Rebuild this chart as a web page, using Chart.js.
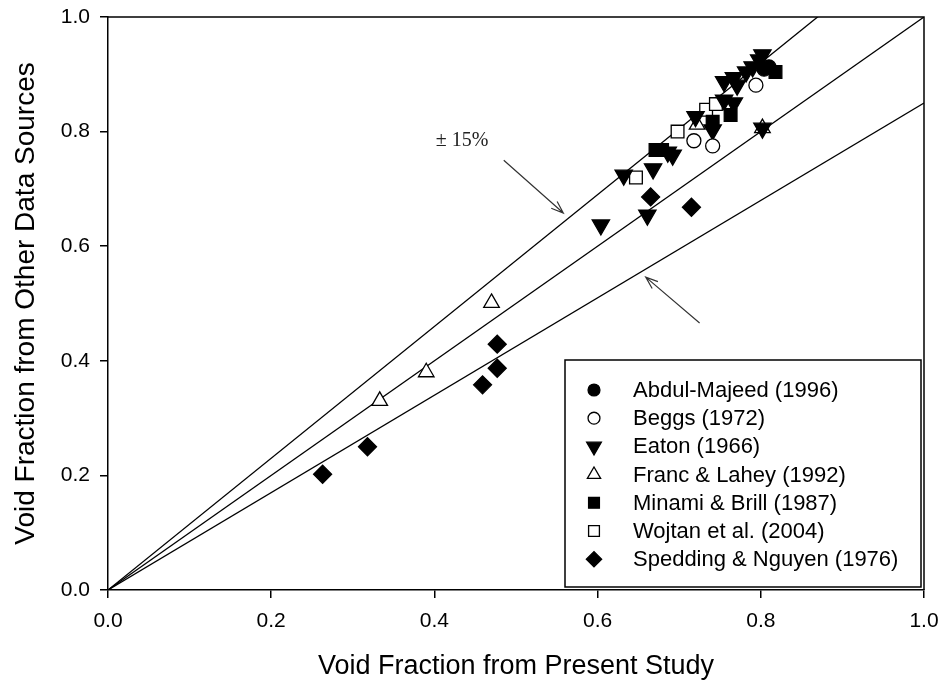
<!DOCTYPE html>
<html>
<head>
<meta charset="utf-8">
<script src="https://cdn.jsdelivr.net/npm/chart.js@4/dist/chart.umd.min.js"></script>
<style>
  html, body { margin: 0; padding: 0; background: #fff; }
</style>
</head>
<body>
<canvas id="voidChart" width="943" height="686"></canvas>
<script>
// データ
var abdulX = [0.804, 0.810];
var abdulY = [0.909, 0.913];
var beggsX = [0.718, 0.741, 0.794];
var beggsY = [0.784, 0.775, 0.881];
var eatonX = [0.604, 0.661, 0.632, 0.668, 0.686, 0.692, 0.720, 0.741, 0.755, 0.767, 0.755, 0.767, 0.771, 0.782, 0.790, 0.798, 0.802, 0.802];
var eatonY = [0.637, 0.654, 0.724, 0.735, 0.764, 0.759, 0.826, 0.803, 0.855, 0.850, 0.887, 0.894, 0.881, 0.904, 0.913, 0.925, 0.934, 0.806];
var francX = [0.333, 0.390, 0.470, 0.722, 0.802];
var francY = [0.330, 0.380, 0.501, 0.812, 0.806];
var minamiX = [0.671, 0.679, 0.741, 0.763, 0.818];
var minamiY = [0.768, 0.768, 0.817, 0.829, 0.904];
var wojtanX = [0.647, 0.698, 0.733, 0.745];
var wojtanY = [0.720, 0.800, 0.838, 0.848];
var speddingX = [0.263, 0.318, 0.459, 0.477, 0.477, 0.665, 0.715];
var speddingY = [0.202, 0.250, 0.358, 0.387, 0.429, 0.686, 0.668];

// 基準線 y = k x
var lineRatios = [1.0, 1.15, 0.85];
var tickValues = [0.0, 0.2, 0.4, 0.6, 0.8, 1.0];

var FONT = "'Liberation Sans', Arial, sans-serif";

var pts = function (xs, ys) {
    return xs.map(function (x, i) { return { x: x, y: ys[i] }; });
};

var series = [
    { label: 'Abdul-Majeed (1996)', x: abdulX, y: abdulY, style: 'circle', r: 7, rot: 0, fill: '#000' },
    { label: 'Beggs (1972)', x: beggsX, y: beggsY, style: 'circle', r: 7, rot: 0, fill: '#fff' },
    { label: 'Eaton (1966)', x: eatonX, y: eatonY, style: 'triangle', r: 10, rot: 180, fill: '#000' },
    { label: 'Franc & Lahey (1992)', x: francX, y: francY, style: 'triangle', r: 9, rot: 0, fill: '#fff' },
    { label: 'Minami & Brill (1987)', x: minamiX, y: minamiY, style: 'rect', r: 9, rot: 0, fill: '#000' },
    { label: 'Wojtan et al. (2004)', x: wojtanX, y: wojtanY, style: 'rect', r: 9, rot: 0, fill: '#fff' },
    { label: 'Spedding & Nguyen (1976)', x: speddingX, y: speddingY, style: 'rectRot', r: 9, rot: 0, fill: '#000' }
];

var datasets = series.map(function (s) {
    return {
        label: s.label,
        data: pts(s.x, s.y),
        pointStyle: s.style,
        pointRadius: s.r,
        pointRotation: s.rot,
        pointBackgroundColor: s.fill,
        pointBorderColor: '#000',
        pointBorderWidth: 1.3,
        showLine: false
    };
});

lineRatios.forEach(function (k) {
    datasets.push({
        label: 'ratio ' + k,
        data: [{ x: 0, y: 0 }, { x: 1, y: k }],
        showLine: true,
        borderColor: '#000',
        borderWidth: 1.3,
        pointRadius: 0,
        order: 10
    });
});

// 枠線（上・右）
var framePlugin = {
    id: 'frame',
    afterDraw: function (chart) {
        var a = chart.chartArea, ctx = chart.ctx;
        ctx.save();
        ctx.strokeStyle = '#000';
        ctx.lineWidth = 1.5;
        ctx.beginPath();
        ctx.moveTo(a.left, a.top);
        ctx.lineTo(a.right, a.top);
        ctx.lineTo(a.right, a.bottom);
        ctx.stroke();
        ctx.restore();
    }
};

// ±15% の注記と矢印
var arrow = function (ctx, x1, y1, x2, y2) {
    var ang = Math.atan2(y2 - y1, x2 - x1), h = 13, w = 0.35;
    ctx.beginPath();
    ctx.moveTo(x1, y1);
    ctx.lineTo(x2, y2);
    ctx.moveTo(x2 - h * Math.cos(ang - w), y2 - h * Math.sin(ang - w));
    ctx.lineTo(x2, y2);
    ctx.lineTo(x2 - h * Math.cos(ang + w), y2 - h * Math.sin(ang + w));
    ctx.stroke();
};
var notePlugin = {
    id: 'note',
    afterDatasetsDraw: function (chart) {
        var xs = chart.scales.x, ys = chart.scales.y, ctx = chart.ctx;
        ctx.save();
        ctx.strokeStyle = '#333';
        ctx.lineWidth = 1.2;
        arrow(ctx, xs.getPixelForValue(0.485), ys.getPixelForValue(0.750), xs.getPixelForValue(0.558), ys.getPixelForValue(0.658));
        arrow(ctx, xs.getPixelForValue(0.725), ys.getPixelForValue(0.466), xs.getPixelForValue(0.659), ys.getPixelForValue(0.546));
        ctx.fillStyle = '#222';
        ctx.font = "20px 'Liberation Serif', 'Times New Roman', serif";
        ctx.textAlign = 'center';
        ctx.textBaseline = 'middle';
        ctx.fillText('\u00b1 15%', xs.getPixelForValue(0.434), ys.getPixelForValue(0.784));
        ctx.restore();
    }
};

// 凡例（プロット内の箱）
var legendPlugin = {
    id: 'boxLegend',
    afterDraw: function (chart) {
        var ctx = chart.ctx, a = chart.chartArea;
        var bx = 565, by = 360, bw = a.right - 3 - bx, bh = 227;
        ctx.save();
        ctx.fillStyle = '#fff';
        ctx.fillRect(bx, by, bw, bh);
        ctx.strokeStyle = '#000';
        ctx.lineWidth = 1.5;
        ctx.strokeRect(bx, by, bw, bh);
        ctx.font = '22px ' + FONT;
        ctx.textBaseline = 'middle';
        ctx.textAlign = 'left';
        series.forEach(function (s, i) {
            var y = 390 + i * 28.2;
            ctx.fillStyle = s.fill;
            ctx.strokeStyle = '#000';
            ctx.lineWidth = 1.3;
            Chart.helpers.drawPoint(ctx, {
                pointStyle: s.style,
                radius: s.r * 0.85,
                rotation: s.rot,
                borderWidth: 1.3
            }, 594, y);
            ctx.fillStyle = '#000';
            ctx.fillText(s.label, 633, y + 1);
        });
        ctx.restore();
    }
};

var axisCommon = function (title, isY) {
    return {
        type: 'linear',
        min: 0,
        max: 1,
        afterBuildTicks: function (scale) {
            scale.ticks = tickValues.map(function (v) { return { value: v }; });
        },
        ticks: {
            color: '#000',
            font: { family: FONT, size: 21 },
            padding: isY ? 10 : 11,
            callback: function (v) { return Number(v).toFixed(1); }
        },
        grid: {
            drawOnChartArea: false,
            drawTicks: true,
            tickLength: 8,
            color: '#000',
            lineWidth: 1.5
        },
        border: { display: true, color: '#000', width: 1.5 },
        title: {
            display: true,
            text: title,
            color: '#000',
            font: { family: FONT, size: isY ? 28 : 27 },
            padding: isY ? { top: 9, bottom: 0 } : { top: 0, bottom: 3 }
        },
        afterFit: function (scale) {
            // 軸の幅・高さを固定し、端ラベルのはみ出し分の余白を消す
            if (isY) {
                scale.width = 108;
                scale.paddingTop = 0;
                scale.paddingBottom = 0;
            } else {
                scale.height = 96;
                scale.paddingLeft = 0;
                scale.paddingRight = 0;
            }
        }
    };
};

new Chart(document.getElementById('voidChart'), {
    type: 'scatter',
    data: { datasets: datasets },
    options: {
        responsive: false,
        animation: false,
        layout: { padding: { top: 17, right: 19, left: 0, bottom: 0 } },
        plugins: {
            legend: { display: false },
            tooltip: { enabled: false }
        },
        scales: {
            x: axisCommon('Void Fraction from Present Study', false),
            y: axisCommon('Void Fraction from Other Data Sources', true)
        }
    },
    plugins: [framePlugin, notePlugin, legendPlugin]
});
</script>
</body>
</html>
